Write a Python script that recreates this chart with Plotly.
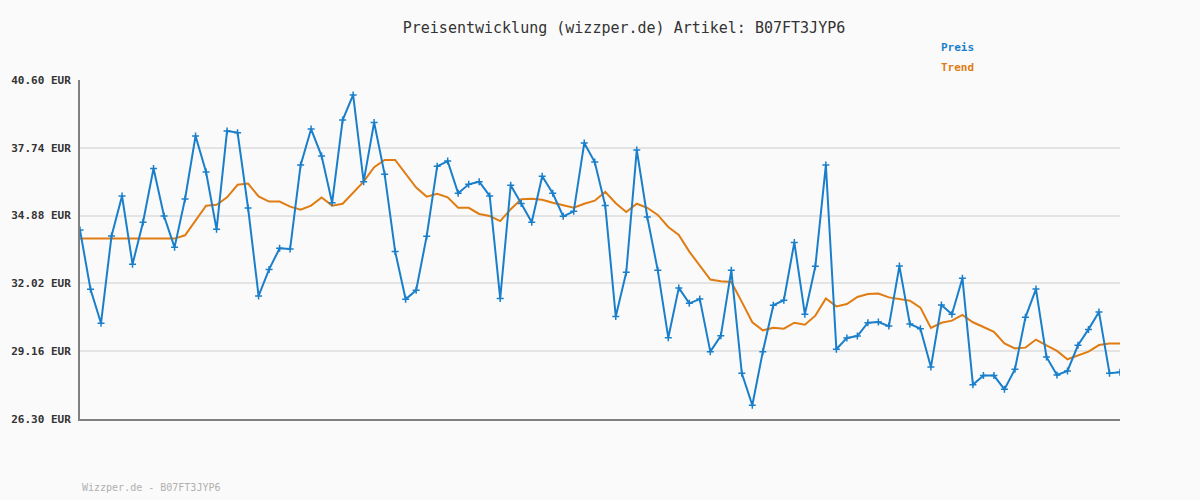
import plotly.graph_objects as go

title_text = "Preisentwicklung (wizzper.de) Artikel: B07FT3JYP6"
footer_text = "Wizzper.de - B07FT3JYP6"

preis = [
    34.27, 31.77, 30.34, 34.02, 35.71, 32.83, 34.60, 36.87, 34.86, 33.54,
    35.58, 38.24, 36.72, 34.30, 38.45, 38.38, 35.20, 31.49, 32.61, 33.50,
    33.47, 37.01, 38.53, 37.39, 35.42, 38.91, 39.97, 36.31, 38.81, 36.62,
    33.37, 31.35, 31.73, 34.01, 36.96, 37.18, 35.82, 36.20, 36.31, 35.71,
    31.38, 36.16, 35.39, 34.60, 36.54, 35.82, 34.85, 35.06, 37.94, 37.14,
    35.31, 30.62, 32.49, 37.65, 34.82, 32.57, 29.73, 31.83, 31.18, 31.36,
    29.14, 29.81, 32.57, 28.23, 26.88, 29.14, 31.10, 31.31, 33.75, 30.72,
    32.74, 37.01, 29.24, 29.72, 29.80, 30.36, 30.39, 30.22, 32.75, 30.31,
    30.11, 28.49, 31.11, 30.72, 32.24, 27.74, 28.13, 28.13, 27.55, 28.40,
    30.59, 31.78, 28.92, 28.16, 28.33, 29.41, 30.08, 30.81, 28.23, 28.27,
]

trend = [
    33.91, 33.91, 33.91, 33.91, 33.91, 33.91, 33.91, 33.91, 33.91, 33.91,
    34.05, 34.67, 35.30, 35.34, 35.65, 36.18, 36.23, 35.69, 35.47, 35.47,
    35.26, 35.13, 35.30, 35.64, 35.30, 35.38, 35.85, 36.31, 36.92, 37.23,
    37.23, 36.66, 36.06, 35.68, 35.80, 35.65, 35.21, 35.21, 34.95, 34.86,
    34.65, 35.15, 35.57, 35.59, 35.55, 35.42, 35.33, 35.21, 35.38, 35.51,
    35.88, 35.40, 35.03, 35.38, 35.21, 34.91, 34.40, 34.06, 33.36, 32.77,
    32.18, 32.11, 32.08, 31.24, 30.38, 30.04, 30.15, 30.11, 30.36, 30.28,
    30.66, 31.38, 31.05, 31.15, 31.45, 31.57, 31.59, 31.43, 31.35, 31.29,
    31.00, 30.14, 30.36, 30.45, 30.69, 30.38, 30.18, 29.98, 29.49, 29.28,
    29.31, 29.65, 29.41, 29.17, 28.82, 28.99, 29.14, 29.42, 29.48, 29.48,
]

y_ticks = [26.30, 29.16, 32.02, 34.88, 37.74, 40.60]
y_tick_labels = ["26.30 EUR", "29.16 EUR", "32.02 EUR", "34.88 EUR", "37.74 EUR", "40.60 EUR"]

x = list(range(len(preis)))

BLUE = "#1a7fcb"
ORANGE = "#e07c12"
MONO = "DejaVu Sans Mono"

fig = go.Figure()
fig.add_trace(go.Scatter(
    x=x, y=trend, mode="lines", name="Trend",
    line=dict(color=ORANGE, width=2),
))
fig.add_trace(go.Scatter(
    x=x, y=preis, mode="lines+markers", name="Preis",
    line=dict(color=BLUE, width=2),
    marker=dict(symbol="cross-thin", size=5, color=BLUE,
                line=dict(color=BLUE, width=1.5)),
))

fig.update_layout(
    width=1200, height=500,
    margin=dict(l=80, r=80, t=80, b=81),
    paper_bgcolor="#fafafa", plot_bgcolor="#fafafa",
    showlegend=False,
    title=dict(text=title_text, x=0.52, xanchor="center", y=0.944, yanchor="middle",
               font=dict(family=MONO, size=15, color="#333333")),
    xaxis=dict(range=[0, len(preis) - 1], showgrid=False, zeroline=False,
               showticklabels=False, ticks="", showline=True,
               linecolor="#808080", linewidth=2),
    yaxis=dict(range=[y_ticks[0], y_ticks[-1]], tickvals=y_ticks, ticktext=y_tick_labels,
               showgrid=True, gridcolor="#e4e4e4", gridwidth=2, zeroline=False,
               showline=True, linecolor="#808080", linewidth=2,
               ticks="outside", ticklen=5, tickcolor="rgba(0,0,0,0)", tickwidth=1,
               tickfont=dict(family=MONO, size=11, color="#333333", weight="bold")),
    annotations=[
        dict(text="<b>Preis</b>", x=939, y=47, xref="paper", yref="paper",
             showarrow=False, xanchor="left", yanchor="middle",
             font=dict(family=MONO, size=11, color=BLUE)),
        dict(text="<b>Trend</b>", x=939, y=67, xref="paper", yref="paper",
             showarrow=False, xanchor="left", yanchor="middle",
             font=dict(family=MONO, size=11, color=ORANGE)),
        dict(text=footer_text, x=80, y=487, showarrow=False,
             xanchor="left", yanchor="middle",
             font=dict(family=MONO, size=10, color="#b0b0b0")),
    ],
)

# convert pixel-positioned annotations into paper coordinates
pw, ph = 1200 - 160, 500 - 161
for a in fig.layout.annotations:
    px, py = a.x, a.y
    a.x = (px - 80) / pw
    a.y = 1 - (py - 80) / ph
    a.xref = "paper"
    a.yref = "paper"

fig.write_html("out.html")
